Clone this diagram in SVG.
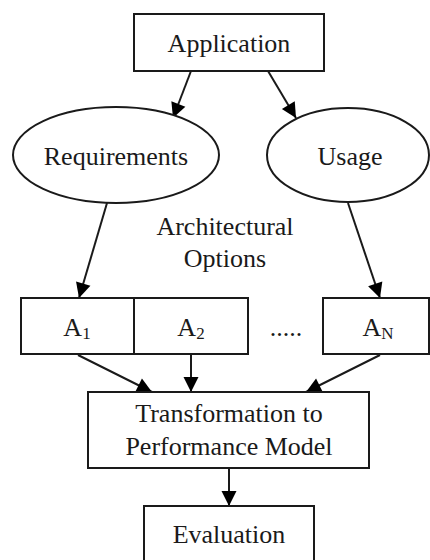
<svg xmlns="http://www.w3.org/2000/svg" width="430" height="560" viewBox="0 0 430 560">
<style>
.n{fill:#fff;stroke:#1a1a1a;stroke-width:2}
.t{font-family:"Liberation Serif","Times New Roman",serif;font-size:26px;fill:#1a1a1a;text-anchor:middle}
.s{font-size:17px}
.c{stroke:#1a1a1a;stroke-width:2;fill:none;marker-end:url(#ah)}
</style>
<defs>
<marker id="ah" markerUnits="userSpaceOnUse" markerWidth="18" markerHeight="18" viewBox="0 0 18 18" refX="16" refY="9" orient="auto">
<path d="M1,1.5 L16,9 L1,16.5 Z" fill="#000"/>
</marker>
</defs>
<rect width="430" height="560" fill="#fff"/>
<g id="connectors">
<line class="c" x1="191" y1="71" x2="173" y2="118"/>
<line class="c" x1="268" y1="71" x2="296" y2="118"/>
<line class="c" x1="107" y1="203" x2="79" y2="298"/>
<line class="c" x1="348" y1="203" x2="380" y2="298"/>
<line class="c" x1="78" y1="355" x2="152" y2="392"/>
<line class="c" x1="191" y1="355" x2="191" y2="392"/>
<line class="c" x1="380" y1="355" x2="306" y2="392"/>
<line class="c" x1="229" y1="468" x2="229" y2="506"/>
</g>
<g id="application">
<rect class="n" x="134" y="14" width="190" height="57"/>
<text class="t" x="229" y="52">Application</text>
</g>
<g id="requirements">
<ellipse class="n" cx="116" cy="155" rx="103" ry="48"/>
<text class="t" x="116" y="165">Requirements</text>
</g>
<g id="usage">
<ellipse class="n" cx="348" cy="155" rx="81" ry="47"/>
<text class="t" x="350" y="165">Usage</text>
</g>
<g id="architectural-options">
<text class="t" x="225" y="235">Architectural</text>
<text class="t" x="225" y="267">Options</text>
</g>
<g id="a1">
<rect class="n" x="21" y="298" width="113" height="56"/>
<text class="t" x="77" y="336">A<tspan class="s" dy="3">1</tspan></text>
</g>
<g id="a2">
<rect class="n" x="134" y="298" width="114" height="56"/>
<text class="t" x="191" y="336">A<tspan class="s" dy="3">2</tspan></text>
</g>
<g id="dots">
<text class="t" x="286" y="336">.....</text>
</g>
<g id="an">
<rect class="n" x="323" y="298" width="106" height="56"/>
<text class="t" x="378" y="336">A<tspan class="s" dy="3">N</tspan></text>
</g>
<g id="transformation">
<rect class="n" x="88" y="392" width="281" height="76"/>
<text class="t" x="229" y="422">Transformation to</text>
<text class="t" x="229" y="455">Performance Model</text>
</g>
<g id="evaluation">
<rect class="n" x="144" y="506" width="170" height="60"/>
<text class="t" x="229" y="543">Evaluation</text>
</g>
</svg>
